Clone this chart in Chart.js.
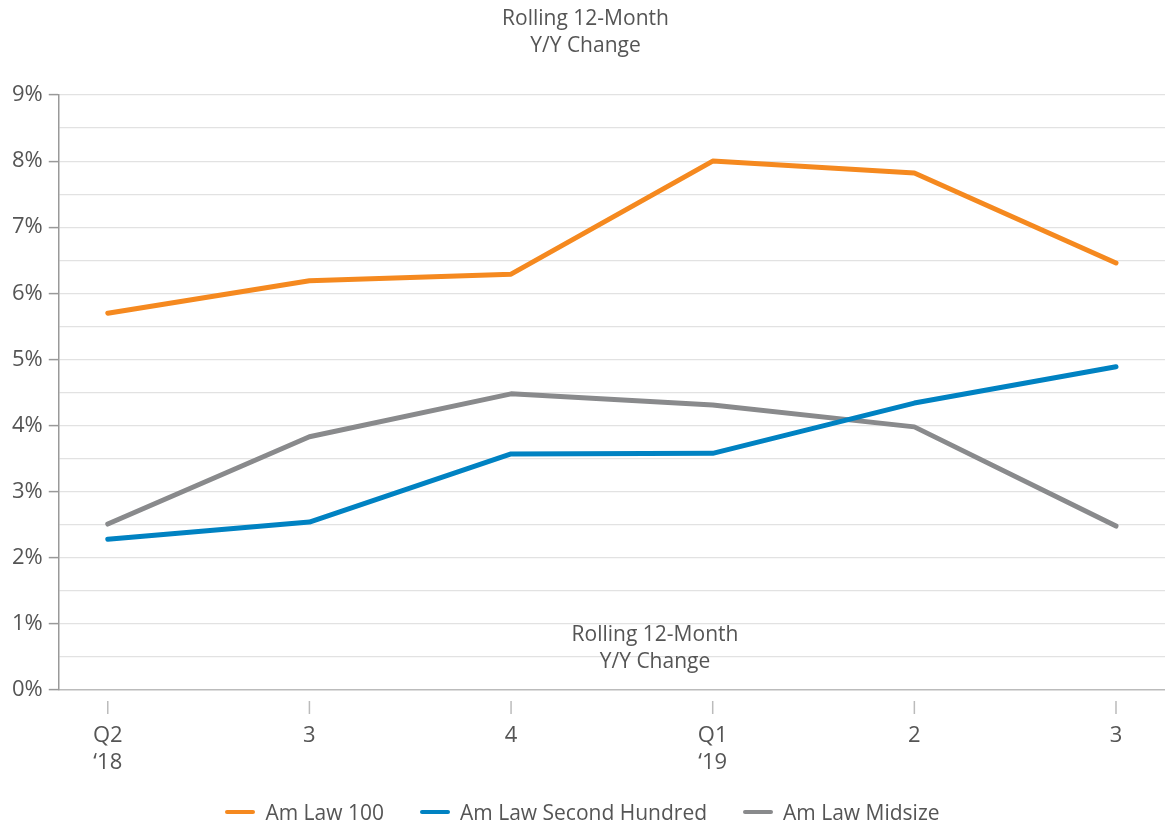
<!DOCTYPE html>
<html lang="en">
<head>
    <meta charset="UTF-8">
    <title>Rolling 12-Month Y/Y Change</title>
    <style>
        html, body {
            margin: 0;
            padding: 0;
            background: #fff;
        }
        #wrap {
            position: relative;
            width: 1165px;
            height: 829px;
        }
        #legend {
            position: absolute;
            left: 0;
            top: 798px;
            width: 1165px;
            display: flex;
            justify-content: center;
            font-family: "Open Sans", sans-serif;
            font-size: 21px;
            color: #555;
            line-height: 28px;
        }
        #legend .item {
            display: flex;
            align-items: center;
            margin: 0 18px;
        }
        #legend .swatch {
            width: 30px;
            height: 4px;
            border-radius: 2px;
            margin-right: 10px;
        }
    </style>
</head>
<body>
    <div id="wrap">
        <canvas id="chart"></canvas>
        <div id="legend"></div>
    </div>

    <script src="https://cdn.jsdelivr.net/npm/chart.js"></script>
    <script>
        const quarters = [['Q2', '\u201818'], '3', '4', ['Q1', '\u201819'], '2', '3'];
        const amLaw100 = [5.70, 6.19, 6.29, 8.00, 7.82, 6.46];
        const secondHundred = [2.28, 2.54, 3.57, 3.58, 4.34, 4.89];
        const midsize = [2.51, 3.83, 4.48, 4.31, 3.98, 2.48];
        const yTicks = [0, 0.5, 1, 1.5, 2, 2.5, 3, 3.5, 4, 4.5, 5, 5.5, 6, 6.5, 7, 7.5, 8, 8.5, 9];

        const FONT = '"Open Sans", sans-serif';
        const TEXT = '#555';

        const toPoints = arr => arr.map((v, i) => ({ x: i, y: v }));

        // x tick marks sit a little below the axis line, not touching it
        const xTickMarks = {
            id: 'xTickMarks',
            afterDraw(chart) {
                const ctx = chart.ctx;
                const xs = chart.scales.x;
                const bottom = chart.chartArea.bottom;
                ctx.save();
                ctx.strokeStyle = '#bbb';
                ctx.lineWidth = 1.5;
                quarters.forEach((q, i) => {
                    const px = xs.getPixelForValue(i);
                    ctx.beginPath();
                    ctx.moveTo(px, bottom + 11);
                    ctx.lineTo(px, bottom + 24);
                    ctx.stroke();
                });
                ctx.restore();
            }
        };

        // the repeated caption inside the plot
        const innerCaption = {
            id: 'innerCaption',
            afterDraw(chart) {
                const ctx = chart.ctx;
                ctx.save();
                ctx.fillStyle = TEXT;
                ctx.font = '21px ' + FONT;
                ctx.textAlign = 'center';
                ctx.textBaseline = 'middle';
                ctx.fillText('Rolling 12-Month', 655, 635);
                ctx.fillText('Y/Y Change', 655, 662);
                ctx.restore();
            }
        };

        const chart = new Chart(document.getElementById('chart'), {
            type: 'line',
            data: {
                datasets: [
                    { label: 'Am Law 100', data: toPoints(amLaw100), borderColor: '#f5891f', backgroundColor: '#f5891f' },
                    { label: 'Am Law Second Hundred', data: toPoints(secondHundred), borderColor: '#0082c2', backgroundColor: '#0082c2' },
                    { label: 'Am Law Midsize', data: toPoints(midsize), borderColor: '#898a8c', backgroundColor: '#898a8c' }
                ]
            },
            options: {
                responsive: true,
                maintainAspectRatio: false,
                animation: false,
                layout: { padding: { left: 6, right: 0, top: 0, bottom: 21 } },
                elements: {
                    line: { borderWidth: 5, borderCapStyle: 'round', borderJoinStyle: 'round', tension: 0 },
                    point: { radius: 0, hoverRadius: 0 }
                },
                plugins: {
                    title: {
                        display: true,
                        text: ['Rolling 12-Month', 'Y/Y Change'],
                        color: TEXT,
                        font: { family: FONT, size: 21, weight: 'normal', lineHeight: '27px' },
                        padding: { top: 6, bottom: 35 }
                    },
                    legend: { display: false },
                    tooltip: { enabled: false }
                },
                scales: {
                    x: {
                        type: 'linear',
                        min: -0.243,
                        max: 5.243,
                        afterBuildTicks: scale => {
                            scale.ticks = quarters.map((q, i) => ({ value: i }));
                        },
                        ticks: {
                            autoSkip: false,
                            maxRotation: 0,
                            padding: 32,
                            color: TEXT,
                            font: { family: FONT, size: 22, lineHeight: '27px' },
                            callback: v => quarters[v]
                        },
                        grid: { display: false, drawTicks: false },
                        border: { display: true, color: '#bbb', width: 1.5 }
                    },
                    y: {
                        min: 0,
                        max: 9,
                        afterBuildTicks: scale => {
                            scale.ticks = yTicks.map(v => ({ value: v }));
                        },
                        ticks: {
                            autoSkip: false,
                            padding: 6,
                            color: TEXT,
                            font: { family: FONT, size: 22 },
                            callback: v => Number.isInteger(v) ? v + '%' : ''
                        },
                        grid: {
                            color: ctx => ctx.tick && ctx.tick.value === 0 ? 'rgba(0,0,0,0)' : '#e2e2e2',
                            lineWidth: 1.2,
                            tickLength: 10,
                            tickColor: ctx => ctx.tick && Number.isInteger(ctx.tick.value) ? '#999' : 'rgba(0,0,0,0)',
                            tickWidth: 1.5
                        },
                        border: { display: true, color: '#999', width: 1.5 }
                    }
                }
            },
            plugins: [xTickMarks, innerCaption]
        });

        // legend built from the chart's datasets
        const legendEl = document.getElementById('legend');
        chart.data.datasets.forEach(ds => {
            const item = document.createElement('div');
            item.className = 'item';
            const sw = document.createElement('span');
            sw.className = 'swatch';
            sw.style.background = ds.borderColor;
            const label = document.createElement('span');
            label.textContent = ds.label;
            item.appendChild(sw);
            item.appendChild(label);
            legendEl.appendChild(item);
        });
    </script>
</body>
</html>
